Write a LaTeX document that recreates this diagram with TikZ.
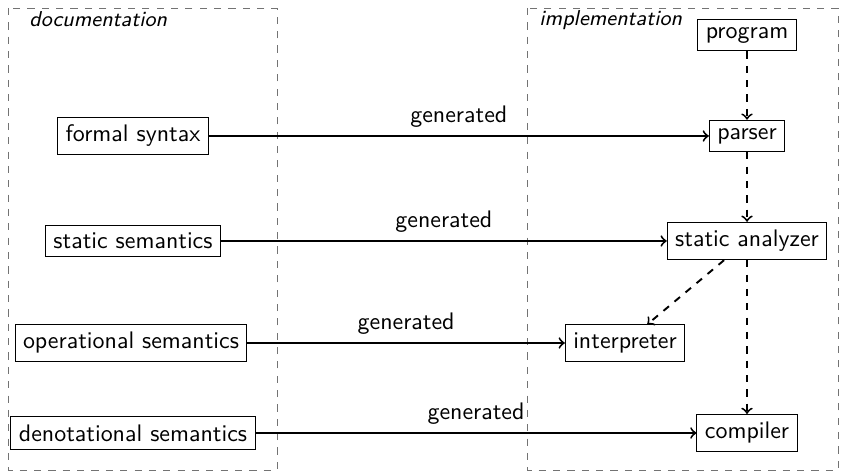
\documentclass[tikz,border=0pt]{standalone}
\begin{document}
\begin{tikzpicture}[x=0.418pt,y=-0.418pt,font=\sffamily,
  block/.style={draw,thin,inner sep=0.3333em},
  region/.style={draw=black!55,dashed,thin},
  gen/.style={->,thick},
  flow/.style={->,thick,dashed},
  lab/.style={above},
  title/.style={anchor=base west,font=\sffamily\small\itshape}]
\useasboundingbox (0,0) rectangle (841,473);

% the two groups
\draw[region] (8,8) rectangle (277,470);
\draw[region] (527,8) rectangle (838,470);
\node[title] (doc) at (21,27) {documentation};
\node[title] (impl) at (531,26) {implementation};

% documentation side
\node[block] (fs) at (133,136) {formal syntax};
\node[block] (ss) at (133,241) {static semantics};
\node[block] (os) at (131,343) {operational semantics};
\node[block] (ds) at (133,433) {denotational semantics};

% implementation side
\node[block] (prog) at (747,35) {program};
\node[block] (pars) at (747,136) {parser};
\node[block] (sa) at (747,241) {static analyzer};
\node[block] (interp) at (625,343) {interpreter};
\node[block] (comp) at (747,433) {compiler};

% generation links
\draw[gen] (fs) -- node[lab] {generated} (pars);
\draw[gen] (ss) -- node[lab] {generated} (sa);
\draw[gen] (os) -- node[lab] {generated} (interp);
\draw[gen] (ds) -- node[lab] {generated} (comp);

% pipeline
\draw[flow] (prog) -- (pars);
\draw[flow] (pars) -- (sa);
\draw[flow] (sa) -- (interp);
\draw[flow] (sa) -- (comp);
\end{tikzpicture}
\end{document}
